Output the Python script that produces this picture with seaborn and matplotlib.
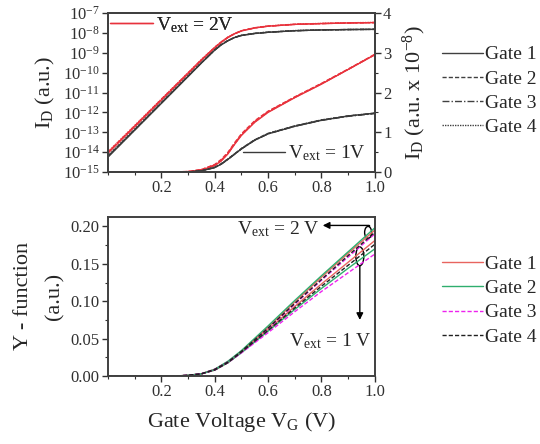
import numpy as np
import pandas as pd
import matplotlib
matplotlib.use("Agg")
import matplotlib.pyplot as plt
from matplotlib.lines import Line2D
from matplotlib.patches import Ellipse
import seaborn as sns

sns.set_theme(style="ticks")
plt.rcParams.update({
    "font.family": ["Liberation Serif", "DejaVu Serif"],
    "mathtext.fontset": "custom",
    "mathtext.rm": "Liberation Serif",
    "mathtext.it": "Liberation Serif:italic",
    "axes.edgecolor": "#404040",
    "axes.linewidth": 1.4,
    "xtick.color": "#303030",
    "ytick.color": "#303030",
})

GATES = ["Gate 1", "Gate 2", "Gate 3", "Gate 4"]

# ---- top panel: transfer curves (log exponent on left, linear x1e-8 on right)
VG_TOP = [0.0, 0.1, 0.2, 0.3, 0.35, 0.4, 0.425, 0.45, 0.475, 0.5, 0.55, 0.6, 0.7, 0.8, 0.9, 1.0]

LOG_2V_G1 = [-14.05, -12.72, -11.38, -10.05, -9.38, -8.75, -8.47, -8.23, -8.04, -7.90, -7.75, -7.66, -7.57, -7.53, -7.50, -7.48]
LOG_2V_G2 = [-14.00, -12.68, -11.34, -10.02, -9.35, -8.73, -8.45, -8.21, -8.03, -7.89, -7.74, -7.66, -7.57, -7.53, -7.50, -7.48]
LOG_2V_G3 = [-14.02, -12.70, -11.36, -10.03, -9.36, -8.74, -8.46, -8.22, -8.04, -7.90, -7.75, -7.66, -7.57, -7.53, -7.50, -7.48]
LOG_2V_G4 = [-13.98, -12.66, -11.33, -10.00, -9.34, -8.72, -8.44, -8.21, -8.03, -7.89, -7.74, -7.65, -7.56, -7.52, -7.49, -7.47]

LOG_1V_G1 = [-14.25, -12.90, -11.55, -10.20, -9.52, -8.87, -8.60, -8.39, -8.23, -8.13, -8.03, -7.97, -7.89, -7.85, -7.83, -7.82]
LOG_1V_G2 = [-14.20, -12.86, -11.51, -10.17, -9.50, -8.85, -8.58, -8.38, -8.22, -8.12, -8.02, -7.96, -7.89, -7.85, -7.83, -7.82]
LOG_1V_G3 = [-14.22, -12.88, -11.53, -10.18, -9.51, -8.86, -8.59, -8.39, -8.23, -8.13, -8.03, -7.97, -7.89, -7.85, -7.83, -7.82]
LOG_1V_G4 = [-14.18, -12.84, -11.50, -10.16, -9.49, -8.85, -8.58, -8.38, -8.22, -8.12, -8.02, -7.96, -7.88, -7.85, -7.83, -7.82]

LIN_2V_G1 = [0.0, 0.0, 0.0, 0.01, 0.05, 0.16, 0.28, 0.46, 0.70, 0.92, 1.25, 1.50, 1.87, 2.21, 2.58, 2.95]
LIN_2V_G2 = [0.0, 0.0, 0.0, 0.01, 0.06, 0.19, 0.32, 0.50, 0.74, 0.96, 1.29, 1.53, 1.89, 2.23, 2.59, 2.96]
LIN_2V_G3 = [0.0, 0.0, 0.0, 0.01, 0.06, 0.18, 0.30, 0.48, 0.72, 0.94, 1.27, 1.52, 1.88, 2.22, 2.58, 2.95]
LIN_2V_G4 = [0.0, 0.0, 0.0, 0.01, 0.05, 0.17, 0.29, 0.47, 0.71, 0.93, 1.26, 1.51, 1.88, 2.22, 2.58, 2.96]

LIN_1V_G1 = [0.0, 0.0, 0.0, 0.0, 0.03, 0.11, 0.20, 0.32, 0.45, 0.58, 0.80, 0.96, 1.15, 1.30, 1.41, 1.48]
LIN_1V_G2 = [0.0, 0.0, 0.0, 0.0, 0.03, 0.12, 0.21, 0.33, 0.46, 0.59, 0.81, 0.97, 1.16, 1.31, 1.41, 1.48]
LIN_1V_G3 = [0.0, 0.0, 0.0, 0.0, 0.03, 0.11, 0.20, 0.32, 0.45, 0.58, 0.80, 0.96, 1.15, 1.30, 1.40, 1.47]
LIN_1V_G4 = [0.0, 0.0, 0.0, 0.0, 0.03, 0.12, 0.21, 0.33, 0.46, 0.59, 0.81, 0.97, 1.16, 1.31, 1.41, 1.48]

# ---- bottom panel: Y-function
VG_BOT = [0.0, 0.1, 0.2, 0.25, 0.3, 0.35, 0.4, 0.45, 0.5, 0.6, 0.7, 0.8, 0.9, 1.0]

Y_2V_G1 = [0, 0, 0, 0, 0.001, 0.003, 0.009, 0.019, 0.033, 0.065, 0.099, 0.132, 0.164, 0.195]
Y_2V_G2 = [0, 0, 0, 0, 0.001, 0.003, 0.009, 0.020, 0.034, 0.067, 0.101, 0.134, 0.166, 0.198]
Y_2V_G3 = [0, 0, 0, 0, 0.001, 0.003, 0.009, 0.019, 0.032, 0.063, 0.096, 0.128, 0.159, 0.190]
Y_2V_G4 = [0, 0, 0, 0, 0.001, 0.003, 0.009, 0.019, 0.033, 0.064, 0.097, 0.129, 0.161, 0.192]

Y_1V_G1 = [0, 0, 0, 0, 0.001, 0.003, 0.008, 0.018, 0.032, 0.062, 0.093, 0.123, 0.152, 0.181]
Y_1V_G2 = [0, 0, 0, 0, 0.001, 0.003, 0.008, 0.018, 0.031, 0.060, 0.089, 0.117, 0.144, 0.170]
Y_1V_G3 = [0, 0, 0, 0, 0.001, 0.003, 0.008, 0.018, 0.031, 0.058, 0.086, 0.113, 0.138, 0.163]
Y_1V_G4 = [0, 0, 0, 0, 0.001, 0.003, 0.008, 0.018, 0.032, 0.061, 0.091, 0.120, 0.148, 0.176]


def long_table(x, series):
    rows = []
    for (vext, gate), vals in series.items():
        for xv, yv in zip(x, vals):
            rows.append({"VG": xv, "val": yv, "vext": vext, "gate": gate})
    return pd.DataFrame(rows)


df_log = long_table(VG_TOP, {
    ("2V", "Gate 1"): LOG_2V_G1, ("2V", "Gate 2"): LOG_2V_G2,
    ("2V", "Gate 3"): LOG_2V_G3, ("2V", "Gate 4"): LOG_2V_G4,
    ("1V", "Gate 1"): LOG_1V_G1, ("1V", "Gate 2"): LOG_1V_G2,
    ("1V", "Gate 3"): LOG_1V_G3, ("1V", "Gate 4"): LOG_1V_G4,
})
df_log["val"] = 10.0 ** df_log["val"]

df_lin = long_table(VG_TOP, {
    ("2V", "Gate 1"): LIN_2V_G1, ("2V", "Gate 2"): LIN_2V_G2,
    ("2V", "Gate 3"): LIN_2V_G3, ("2V", "Gate 4"): LIN_2V_G4,
    ("1V", "Gate 1"): LIN_1V_G1, ("1V", "Gate 2"): LIN_1V_G2,
    ("1V", "Gate 3"): LIN_1V_G3, ("1V", "Gate 4"): LIN_1V_G4,
})

df_y = long_table(VG_BOT, {
    ("2V", "Gate 1"): Y_2V_G1, ("2V", "Gate 2"): Y_2V_G2,
    ("2V", "Gate 3"): Y_2V_G3, ("2V", "Gate 4"): Y_2V_G4,
    ("1V", "Gate 1"): Y_1V_G1, ("1V", "Gate 2"): Y_1V_G2,
    ("1V", "Gate 3"): Y_1V_G3, ("1V", "Gate 4"): Y_1V_G4,
})

RED = "#e8323c"
DARK = "#3a3a3a"
vext_pal = {"2V": RED, "1V": DARK}
top_dashes = {"Gate 1": "", "Gate 2": (3, 1.5), "Gate 3": (5, 1.5, 1, 1.5), "Gate 4": (1, 0.8)}

bot_pal = {"Gate 1": "#e8645f", "Gate 2": "#2fae6e", "Gate 3": "#ee22ee", "Gate 4": "#202020"}
bot_dashes = {"Gate 1": "", "Gate 2": "", "Gate 3": (3, 1.5), "Gate 4": (3, 1.5)}

fig = plt.figure(figsize=(5.4, 4.44), dpi=100)
ax = fig.add_axes([0.2, 0.6126, 0.494, 0.358])
axb = fig.add_axes([0.2, 0.153, 0.494, 0.359])

# ---- top
ax2 = ax.twinx()
sns.lineplot(data=df_log, x="VG", y="val", hue="vext", style="gate",
             palette=vext_pal, dashes=top_dashes, linewidth=1.0,
             estimator=None, legend=False, ax=ax)
sns.lineplot(data=df_lin, x="VG", y="val", hue="vext", style="gate",
             palette=vext_pal, dashes=top_dashes, linewidth=1.0,
             estimator=None, legend=False, ax=ax2)
ax.set_yscale("log")
ax.set_ylim(1e-15, 1e-7)
ax.set_yticks([10.0 ** e for e in range(-15, -6)])
ax.yaxis.set_minor_locator(matplotlib.ticker.NullLocator())
ax2.set_ylim(0, 4)
ax2.set_yticks([0, 1, 2, 3, 4])
ax2.yaxis.set_minor_locator(matplotlib.ticker.MultipleLocator(0.5))
ax.set_xlim(0.0, 1.0)
ax.set_xticks([0.2, 0.4, 0.6, 0.8, 1.0])
ax.xaxis.set_minor_locator(matplotlib.ticker.MultipleLocator(0.1))
ax.set_xlabel("")
ax.set_ylabel(r"I$_{\mathrm{D}}$ (a.u.)", fontsize=16, labelpad=4)
ax2.set_ylabel(r"I$_{\mathrm{D}}$ (a.u. x 10$^{-8}$)", fontsize=16, labelpad=7)
for a in (ax, ax2):
    a.tick_params(labelsize=12, length=4, width=1, direction="out", pad=2)
    a.tick_params(which="minor", length=2.5, width=0.8)

leg_a = ax.legend(handles=[Line2D([], [], color=RED, lw=1.0)],
                  labels=[r"V$_{\mathrm{ext}}$ = 2V"], loc="upper left",
                  frameon=False, fontsize=14, handlelength=2.2,
                  handletextpad=0.15, borderaxespad=0.0, borderpad=0.1)
ax.add_artist(leg_a)
ax2.legend(handles=[Line2D([], [], color=DARK, lw=1.0)],
           labels=[r"V$_{\mathrm{ext}}$ = 1V"], loc="lower right",
           frameon=False, fontsize=14, handlelength=2.2,
           handletextpad=0.15, borderaxespad=0.35, borderpad=0.1)

gate_handles = [Line2D([], [], color="#404040", lw=1.0,
                       linestyle=("-" if d == "" else (0, d)))
                for d in top_dashes.values()]
fig.legend(handles=gate_handles, labels=GATES, loc="upper left",
           bbox_to_anchor=(0.818, 0.897), frameon=False, fontsize=14,
           handlelength=2.1, handletextpad=0.15, labelspacing=0.34,
           borderpad=0, borderaxespad=0)

# ---- bottom
sns.lineplot(data=df_y, x="VG", y="val", hue="gate", style="gate", units="vext",
             palette=bot_pal, dashes=bot_dashes, linewidth=1.0,
             estimator=None, legend=False, ax=axb)
axb.set_xlim(0.0, 1.0)
axb.set_ylim(0.0, 0.213)
axb.set_xticks([0.2, 0.4, 0.6, 0.8, 1.0])
axb.xaxis.set_minor_locator(matplotlib.ticker.MultipleLocator(0.1))
axb.set_yticks([0.0, 0.05, 0.10, 0.15, 0.20])
axb.yaxis.set_major_formatter(matplotlib.ticker.FormatStrFormatter("%.2f"))
axb.yaxis.set_minor_locator(matplotlib.ticker.MultipleLocator(0.025))
axb.tick_params(labelsize=12, length=4, width=1, direction="out", pad=2)
axb.tick_params(which="minor", length=2.5, width=0.8)
axb.set_xlabel(r"Gate Voltage V$_{\mathrm{G}}$ (V)", fontsize=16, labelpad=7)
axb.set_ylabel("Y - function\n(a.u.)", fontsize=16, linespacing=1.85, labelpad=4)

axb.add_patch(Ellipse((0.975, 0.192), 0.026, 0.016, fill=False, ec="black", lw=1.0))
axb.add_patch(Ellipse((0.944, 0.160), 0.03, 0.025, fill=False, ec="black", lw=1.0))
axb.plot([0.978, 0.978], [0.2005, 0.2013], color="black", lw=1.0)
axb.annotate("", xy=(0.805, 0.2013), xytext=(0.978, 0.2013),
             arrowprops=dict(arrowstyle="-|>", color="black", lw=1.0,
                             mutation_scale=10, shrinkA=0, shrinkB=0))
axb.annotate("", xy=(0.944, 0.075), xytext=(0.944, 0.1475),
             arrowprops=dict(arrowstyle="-|>", color="black", lw=1.0,
                             mutation_scale=10, shrinkA=0, shrinkB=0))
axb.text(0.64, 0.196, r"V$_{\mathrm{ext}}$ = 2 V", fontsize=14,
         ha="center", va="center")
axb.text(0.99, 0.047, r"V$_{\mathrm{ext}}$ = 1 V", fontsize=14,
         ha="right", va="center")

bot_handles = [Line2D([], [], color=bot_pal[g], lw=1.0,
                      linestyle=("-" if bot_dashes[g] == "" else (0, bot_dashes[g])))
               for g in GATES]
fig.legend(handles=bot_handles, labels=GATES, loc="upper left",
           bbox_to_anchor=(0.818, 0.425), frameon=False, fontsize=14,
           handlelength=2.1, handletextpad=0.15, labelspacing=0.34,
           borderpad=0, borderaxespad=0)

fig.savefig("out.png", dpi=100)
